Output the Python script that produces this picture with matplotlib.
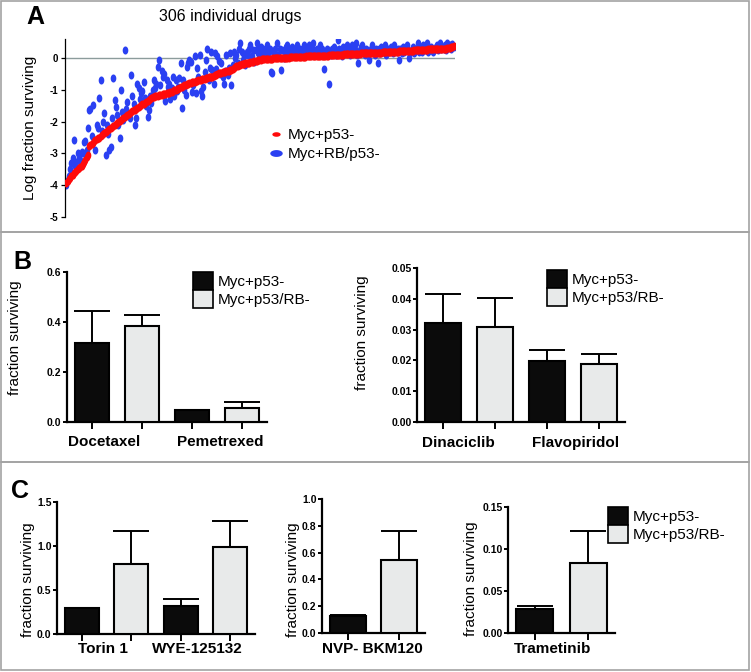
import matplotlib
matplotlib.use('Agg')
import matplotlib.pyplot as plt
from matplotlib.lines import Line2D
from matplotlib.patches import Rectangle, Patch
import numpy as np

plt.rcParams['font.family'] = ['Liberation Sans', 'DejaVu Sans']

# ---------------- data ----------------
# Panel A: 306 drugs, sorted by Myc+p53- response (log fraction surviving)
red_vals = [
    -3.93,-3.88,-3.82,-3.76,-3.72,-3.68,-3.62,-3.58,-3.55,-3.50,
    -3.46,-3.42,-3.38,-3.32,-3.26,-3.20,-3.12,-3.05,-2.78,-2.74,
    -2.70,-2.66,-2.62,-2.59,-2.56,-2.53,-2.50,-2.46,-2.43,-2.40,
    -2.36,-2.33,-2.30,-2.27,-2.24,-2.20,-2.17,-2.14,-2.11,-2.08,
    -2.05,-2.02,-1.99,-1.96,-1.93,-1.90,-1.86,-1.82,-1.79,-1.76,
    -1.72,-1.69,-1.66,-1.64,-1.62,-1.60,-1.58,-1.55,-1.52,-1.49,
    -1.46,-1.43,-1.40,-1.37,-1.34,-1.31,-1.28,-1.26,-1.24,-1.22,
    -1.20,-1.19,-1.18,-1.17,-1.16,-1.15,-1.14,-1.13,-1.12,-1.11,
    -1.10,-1.09,-1.08,-1.06,-1.04,-1.02,-1.00,-0.98,-0.96,-0.94,
    -0.92,-0.90,-0.88,-0.86,-0.84,-0.82,-0.80,-0.79,-0.78,-0.76,
    -0.75,-0.74,-0.72,-0.71,-0.70,-0.69,-0.68,-0.67,-0.66,-0.65,
    -0.64,-0.62,-0.61,-0.60,-0.59,-0.58,-0.56,-0.54,-0.52,-0.50,
    -0.48,-0.47,-0.46,-0.45,-0.44,-0.43,-0.42,-0.41,-0.40,-0.38,
    -0.36,-0.33,-0.30,-0.28,-0.26,-0.24,-0.23,-0.21,-0.20,-0.19,
    -0.18,-0.17,-0.16,-0.15,-0.14,-0.13,-0.12,-0.11,-0.10,-0.09,
    -0.08,-0.07,-0.06,-0.05,-0.04,-0.04,-0.03,-0.03,-0.02,-0.02,
    -0.02,-0.02,-0.02,-0.01,-0.01,-0.01,-0.01,0.00,0.00,0.00,
    0.00,0.00,0.01,0.01,0.01,0.01,0.02,0.02,0.02,0.02,
    0.03,0.03,0.03,0.03,0.04,0.04,0.04,0.04,0.04,0.05,
    0.05,0.05,0.05,0.05,0.06,0.06,0.06,0.06,0.06,0.07,
    0.07,0.07,0.07,0.08,0.08,0.08,0.08,0.09,0.09,0.09,
    0.09,0.10,0.10,0.10,0.10,0.11,0.11,0.11,0.11,0.12,
    0.12,0.12,0.12,0.13,0.13,0.13,0.13,0.14,0.14,0.14,
    0.14,0.14,0.15,0.15,0.15,0.15,0.15,0.16,0.16,0.16,
    0.16,0.16,0.16,0.17,0.17,0.17,0.17,0.17,0.17,0.18,
    0.18,0.18,0.18,0.18,0.19,0.19,0.19,0.19,0.20,0.20,
    0.20,0.20,0.21,0.21,0.21,0.21,0.22,0.22,0.22,0.22,
    0.23,0.23,0.23,0.23,0.24,0.24,0.24,0.24,0.25,0.25,
    0.25,0.25,0.26,0.26,0.26,0.27,0.27,0.27,0.27,0.28,
    0.28,0.28,0.28,0.29,0.29,0.29,0.29,0.30,0.30,0.30,
    0.31,0.32,0.33,0.34,0.36,0.38]

blue_vals = [
    -4.0,-3.85,-3.7,-3.5,-3.3,-3.15,-2.58,-3.4,-3.26,-3.0,
    -3.1,-3.2,-2.95,-3.0,-2.63,-2.6,-2.9,-2.2,-1.64,-1.6,
    -2.45,-1.48,-2.58,-2.9,-2.1,-2.2,-1.27,-0.69,-2.3,-2.0,
    -1.74,-3.05,-2.1,-2.4,-2.9,-2.8,-1.9,-0.64,-1.32,-1.53,
    -1.8,-2.1,-2.5,-1.0,-1.69,-1.95,0.25,-1.6,-1.37,-1.75,
    -1.9,-0.53,-1.2,-1.45,-2.1,-1.87,-0.8,-0.95,-1.3,-1.1,
    -1.05,-0.75,-1.25,-1.5,-1.85,-1.63,-1.2,-1.42,-1.0,-0.69,
    -0.95,-0.8,-0.27,-0.06,-0.85,-0.4,-0.6,-0.5,-1.35,-0.7,
    -0.9,-0.8,-1.3,-0.95,-0.6,-1.2,-0.69,-1.05,-0.9,-0.64,
    -0.17,-1.57,-0.7,-1.0,-1.15,-0.27,-0.17,-0.06,-0.12,-1.06,
    -0.85,0.05,-1.1,-0.3,-0.6,0.1,-1.05,-1.2,-0.9,-0.45,
    -0.06,0.3,-0.69,-0.3,0.2,-0.38,-0.82,0.16,-0.35,0.05,
    -0.1,-0.5,-0.17,-0.6,-0.82,-0.4,0.1,-0.53,-0.3,0.15,
    -0.85,-0.22,0.2,0.0,0.1,-0.15,0.3,0.46,0.2,-0.05,
    0.05,-0.22,0.2,0.1,0.3,0.4,0.05,0.25,-0.12,0.25,
    0.46,0.16,0.3,0.36,0.1,0.3,0.05,0.2,0.4,0.15,
    0.3,-0.44,-0.48,0.2,0.3,0.1,0.46,0.1,0.3,-0.38,
    0.25,0.0,0.2,0.35,0.4,0.16,0.3,0.1,0.36,0.2,
    0.3,0.15,0.4,0.1,0.3,0.2,0.25,0.4,0.15,0.3,
    0.2,0.4,0.1,0.3,0.46,0.25,0.15,0.3,0.2,0.1,
    0.4,0.3,0.2,-0.33,0.15,0.3,0.25,-0.8,0.1,0.3,
    0.2,0.35,0.1,0.25,0.57,0.3,0.2,0.05,0.35,0.15,
    0.3,0.4,0.2,0.1,0.3,0.4,0.2,0.3,0.46,0.1,
    -0.17,0.25,0.35,0.4,0.2,0.1,0.3,0.25,-0.06,0.2,
    0.3,0.4,0.2,0.1,0.3,-0.17,0.3,0.15,0.35,0.2,
    0.3,0.4,0.1,0.3,0.2,0.25,0.35,0.15,0.4,0.25,
    0.2,0.3,-0.05,0.3,0.15,0.35,0.2,0.3,0.4,0.25,
    0.0,0.2,0.25,0.35,0.15,0.3,0.3,0.46,0.2,0.35,
    0.2,0.4,0.3,0.25,0.46,0.2,0.25,0.35,0.3,0.2,
    0.3,0.35,0.4,0.25,0.46,0.3,0.35,0.3,0.4,0.25,
    0.46,0.35,0.4,0.3,0.45,0.35]

scatter_labels = ['Myc+p53-', 'Myc+RB/p53-']
bar_labels = ['Myc+p53-', 'Myc+p53/RB-']

# Panel B left
b1_drugs = ['Docetaxel', 'Pemetrexed']
b1_black = [0.317, 0.048]
b1_black_err = [0.128, 0.0]
b1_gray = [0.385, 0.057]
b1_gray_err = [0.043, 0.022]
b1_yticks = [0.0, 0.2, 0.4, 0.6]

# Panel B right
b2_drugs = ['Dinaciclib', 'Flavopiridol']
b2_black = [0.0320, 0.0199]
b2_black_err = [0.0095, 0.0034]
b2_gray = [0.0307, 0.0187]
b2_gray_err = [0.0097, 0.0034]
b2_yticks = [0.00, 0.01, 0.02, 0.03, 0.04, 0.05]

# Panel C
c1_drugs = ['Torin 1', 'WYE-125132']
c1_black = [0.30, 0.32]
c1_black_err = [0.0, 0.08]
c1_gray = [0.80, 0.99]
c1_gray_err = [0.37, 0.29]
c1_yticks = [0.0, 0.5, 1.0, 1.5]

c2_drugs = ['NVP- BKM120']
c2_black = [0.13]
c2_black_err = [0.005]
c2_gray = [0.545]
c2_gray_err = [0.218]
c2_yticks = [0.0, 0.2, 0.4, 0.6, 0.8, 1.0]

c3_drugs = ['Trametinib']
c3_black = [0.029]
c3_black_err = [0.003]
c3_gray = [0.083]
c3_gray_err = [0.039]
c3_yticks = [0.00, 0.05, 0.10, 0.15]

# ---------------- layout ----------------
W, H = 751, 672
fig = plt.figure(figsize=(W / 100, H / 100), dpi=100)


def px_axes(left, top, right, bottom):
    return fig.add_axes([left / W, 1 - bottom / H, (right - left) / W, (bottom - top) / H])


def fig_xy(x, y):
    return (x / W, 1 - y / H)


# panel frames
for (y0, y1) in [(1, 232), (232, 462), (462, 670)]:
    fig.add_artist(Rectangle((1 / W, 1 - y1 / H), 748 / W, (y1 - y0) / H,
                             transform=fig.transFigure, fill=False,
                             edgecolor='#a3a3a3', linewidth=1.2))

# panel letters
for letter, (x, y) in zip('ABC', [(35, 17), (22, 262), (20, 491)]):
    fig.text(*fig_xy(x, y), letter, fontsize=18, fontweight='bold',
             ha='center', va='center')

# ---------------- Panel A ----------------
axA = px_axes(65, 39, 455, 217)
idx = np.arange(len(red_vals))
v_ell = [(0.7 * np.cos(t), np.sin(t)) for t in np.linspace(0, 2 * np.pi, 30)]
h_ell = [(np.cos(t), 0.55 * np.sin(t)) for t in np.linspace(0, 2 * np.pi, 30)]
axA.axhline(0, color='#8c9c9c', linewidth=1.0, zorder=1)
axA.plot(idx, blue_vals, ls='none', marker=v_ell, ms=5.8, color='#2a40f2',
         mec='none', zorder=2)
axA.plot(idx, red_vals, ls='none', marker=v_ell, ms=5.8, color='#ff0a0a',
         mec='none', zorder=3)
axA.set_xlim(-1, len(red_vals))
axA.set_ylim(-5, 0.6)
axA.set_yticks(range(-5, 1))
axA.set_yticklabels([str(v) for v in range(-5, 1)], fontsize=7, fontweight='bold')
for s in ['top', 'right', 'bottom']:
    axA.spines[s].set_visible(False)
axA.spines['left'].set_linewidth(0.9)
axA.tick_params(axis='y', length=3, width=0.9, pad=2)
axA.set_xticks([])
axA.set_ylabel('Log fraction surviving', fontsize=11)
axA.yaxis.set_label_coords(-0.072, 0.5)
fig.text(*fig_xy(230, 17), '306 individual drugs', fontsize=11.5,
         ha='center', va='center')
hA = [Line2D([], [], ls='none', marker=h_ell, ms=6, color='#ff0a0a', mec='none'),
      Line2D([], [], ls='none', marker=h_ell, ms=9, color='#2a40f2', mec='none')]
axA.legend(hA, scatter_labels, loc='upper left', bbox_to_anchor=fig_xy(268, 128),
           bbox_transform=fig.transFigure, frameon=False, fontsize=11,
           handlelength=1.0, handletextpad=0.3, borderpad=0, labelspacing=0.33,
           borderaxespad=0)


# ---------------- bar panels ----------------
def bar_panel(box, drugs, black, black_err, gray, gray_err, yticks, fmt,
              label_x, label_y, ylab_xy, legend_xy=None):
    ax = px_axes(*box)
    n = len(drugs)
    xb = [2 * k + 0.5 for k in range(n)]
    xg = [2 * k + 1.5 for k in range(n)]
    width = 0.69
    ax.bar(xb, black, width=width, color='#0b0b0b', edgecolor='black',
           linewidth=1.5, zorder=3)
    ax.bar(xg, gray, width=width, color='#e8eaea', edgecolor='black',
           linewidth=1.5, zorder=3)
    ax.errorbar(xb, black, yerr=[[0] * n, black_err], fmt='none', ecolor='black',
                elinewidth=1.4, capsize=13, capthick=1.4, zorder=2)
    ax.errorbar(xg, gray, yerr=[[0] * n, gray_err], fmt='none', ecolor='black',
                elinewidth=1.4, capsize=13, capthick=1.4, zorder=2)
    ax.set_xlim(0, 2 * n)
    ax.set_ylim(yticks[0], yticks[-1])
    ax.set_yticks(yticks)
    ax.set_yticklabels([fmt.format(v) for v in yticks], fontsize=7.5,
                       fontweight='bold')
    ax.set_xticks(sorted(xb + xg))
    ax.set_xticklabels([])
    for s in ['top', 'right']:
        ax.spines[s].set_visible(False)
    for s in ['left', 'bottom']:
        ax.spines[s].set_linewidth(1.6)
    ax.tick_params(axis='y', length=3, width=1.4, pad=1)
    ax.tick_params(axis='x', length=5, width=1.4)
    for name, lx in zip(drugs, label_x):
        ax.text(lx, label_y, name, transform=ax.get_xaxis_transform(),
                fontsize=11, fontweight='bold', ha='center', va='center')
    ax.set_ylabel('fraction surviving', fontsize=11)
    ax.yaxis.set_label_coords(*ylab_xy)
    if legend_xy is not None:
        handles = [Patch(facecolor='#0b0b0b', edgecolor='black', linewidth=1.2),
                   Patch(facecolor='#e8eaea', edgecolor='black', linewidth=1.2)]
        ax.legend(handles, bar_labels, loc='upper left',
                  bbox_to_anchor=fig_xy(*legend_xy), bbox_transform=fig.transFigure,
                  frameon=False, fontsize=11, handlelength=1.3, handleheight=1.45,
                  handletextpad=0.3, borderpad=0, labelspacing=0,
                  borderaxespad=0)
    return ax


bar_panel((67, 272, 267, 422), b1_drugs, b1_black, b1_black_err, b1_gray,
          b1_gray_err, b1_yticks, '{:.1f}', [0.74, 3.06], -0.133, (-0.225, 0.56),
          legend_xy=(193, 272))
bar_panel((417, 268, 625, 422), b2_drugs, b2_black, b2_black_err, b2_gray,
          b2_gray_err, b2_yticks, '{:.2f}', [0.79, 3.04], -0.136, (-0.231, 0.58),
          legend_xy=(547, 270))
bar_panel((57, 502, 255, 634), c1_drugs, c1_black, c1_black_err, c1_gray,
          c1_gray_err, c1_yticks, '{:.1f}', [0.93, 2.83], -0.114, (-0.112, 0.41))
bar_panel((322, 499, 425, 633), c2_drugs, c2_black, c2_black_err, c2_gray,
          c2_gray_err, c2_yticks, '{:.1f}', [0.97], -0.119, (-0.214, 0.40))
bar_panel((508, 507, 615, 633), c3_drugs, c3_black, c3_black_err, c3_gray,
          c3_gray_err, c3_yticks, '{:.2f}', [0.84], -0.127, (-0.28, 0.43),
          legend_xy=(608, 507))

fig.savefig('out.png', dpi=100)
